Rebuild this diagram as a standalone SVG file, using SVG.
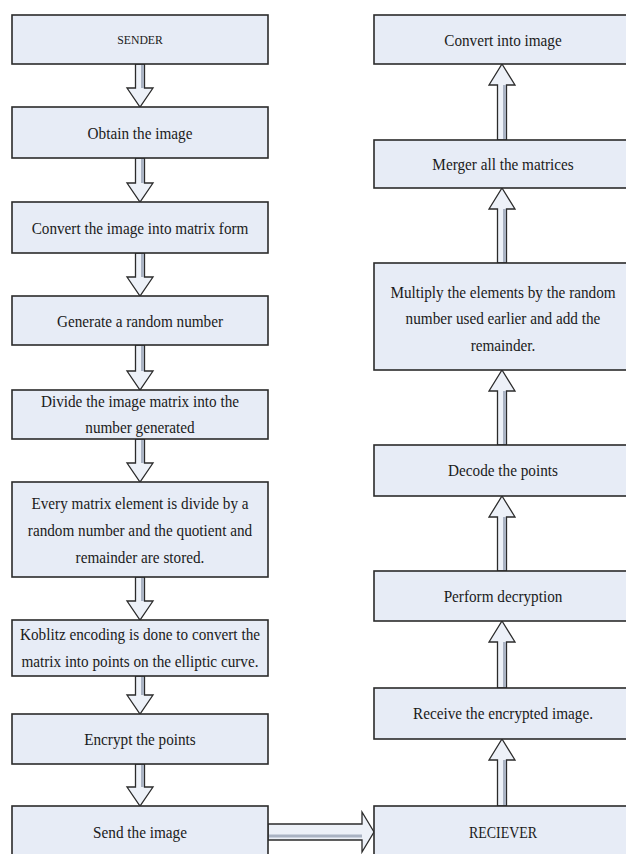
<svg xmlns="http://www.w3.org/2000/svg" width="626" height="854" viewBox="0 0 626 854">
<style>
.box{fill:#e7ecf6;stroke:#2b2b2b;stroke-width:1.6}
.arr{fill:#edf1f8;stroke:#2b2b2b;stroke-width:1.3;stroke-linejoin:miter}
.sh{stroke:#aab3c3;stroke-width:3;fill:none}
text{font-family:"Liberation Serif","Times New Roman",serif;font-size:17.5px;fill:#1a1a1a;text-anchor:middle;transform-box:fill-box;transform-origin:center;transform:scaleX(0.87)}
.sm{font-size:13.5px}
</style>
<rect width="626" height="854" fill="#fff"/>
<g id="connectors">
<polygon class="arr" points="135.5,64 144.5,64 144.5,88 153,88 140,107 127,88 135.5,88"/>
<line class="sh" x1="142.5" y1="65" x2="142.5" y2="88"/>
<polygon class="arr" points="135.5,158 144.5,158 144.5,183 153,183 140,202 127,183 135.5,183"/>
<line class="sh" x1="142.5" y1="159" x2="142.5" y2="183"/>
<polygon class="arr" points="135.5,253 144.5,253 144.5,277 153,277 140,296 127,277 135.5,277"/>
<line class="sh" x1="142.5" y1="254" x2="142.5" y2="277"/>
<polygon class="arr" points="135.5,345 144.5,345 144.5,371 153,371 140,390 127,371 135.5,371"/>
<line class="sh" x1="142.5" y1="346" x2="142.5" y2="371"/>
<polygon class="arr" points="135.5,439 144.5,439 144.5,463 153,463 140,482 127,463 135.5,463"/>
<line class="sh" x1="142.5" y1="440" x2="142.5" y2="463"/>
<polygon class="arr" points="135.5,577 144.5,577 144.5,601 153,601 140,620 127,601 135.5,601"/>
<line class="sh" x1="142.5" y1="578" x2="142.5" y2="601"/>
<polygon class="arr" points="135.5,676 144.5,676 144.5,695 153,695 140,714 127,695 135.5,695"/>
<line class="sh" x1="142.5" y1="677" x2="142.5" y2="695"/>
<polygon class="arr" points="135.5,764 144.5,764 144.5,787 153,787 140,806 127,787 135.5,787"/>
<line class="sh" x1="142.5" y1="765" x2="142.5" y2="787"/>

<polygon class="arr" points="502,64 515,85 506.5,85 506.5,140 497.5,140 497.5,85 489,85"/>
<line class="sh" x1="504.5" y1="85" x2="504.5" y2="139"/>
<polygon class="arr" points="502,188 515,209 506.5,209 506.5,263 497.5,263 497.5,209 489,209"/>
<line class="sh" x1="504.5" y1="209" x2="504.5" y2="262"/>
<polygon class="arr" points="502,370 515,391 506.5,391 506.5,445 497.5,445 497.5,391 489,391"/>
<line class="sh" x1="504.5" y1="391" x2="504.5" y2="444"/>
<polygon class="arr" points="502,496 515,517 506.5,517 506.5,571 497.5,571 497.5,517 489,517"/>
<line class="sh" x1="504.5" y1="517" x2="504.5" y2="570"/>
<polygon class="arr" points="502,621 515,642 506.5,642 506.5,688 497.5,688 497.5,642 489,642"/>
<line class="sh" x1="504.5" y1="642" x2="504.5" y2="687"/>
<polygon class="arr" points="502,739 515,760 506.5,760 506.5,806 497.5,806 497.5,760 489,760"/>
<line class="sh" x1="504.5" y1="760" x2="504.5" y2="805"/>

<polygon class="arr" points="268,824 362,824 362,812 374,832 362,852 362,840 268,840"/>
<line class="sh" x1="269" y1="836" x2="362" y2="836"/>
</g>

<g id="sender"><rect class="box" x="12" y="15" width="256" height="49"/><text class="sm" x="140" y="44">SENDER</text></g>
<g id="obtain"><rect class="box" x="12" y="107" width="256" height="51"/><text x="140" y="139">Obtain the image</text></g>
<g id="convert"><rect class="box" x="12" y="202" width="256" height="51"/><text x="140" y="234">Convert the image into matrix form</text></g>
<g id="generate"><rect class="box" x="12" y="296" width="256" height="49"/><text x="140" y="327">Generate a random number</text></g>
<g id="divide"><rect class="box" x="12" y="390" width="256" height="49"/><text x="140" y="407">Divide the image matrix into the</text><text x="140" y="433">number generated</text></g>
<g id="every"><rect class="box" x="12" y="482" width="256" height="95"/><text x="140" y="509">Every matrix element is divide by a</text><text x="140" y="536">random number and the quotient and</text><text x="140" y="563">remainder are stored.</text></g>
<g id="koblitz"><rect class="box" x="12" y="620" width="256" height="56"/><text x="140" y="640">Koblitz encoding is done to convert the</text><text x="140" y="667">matrix into points on the elliptic curve.</text></g>
<g id="encrypt"><rect class="box" x="12" y="714" width="256" height="50"/><text x="140" y="745">Encrypt the points</text></g>
<g id="send"><rect class="box" x="12" y="806" width="256" height="60"/><text x="140" y="838">Send the image</text></g>

<g id="convert-image"><rect class="box" x="374" y="15" width="256" height="49"/><text x="503" y="46">Convert into image</text></g>
<g id="merger"><rect class="box" x="374" y="140" width="256" height="48"/><text x="503" y="170">Merger all the matrices</text></g>
<g id="multiply"><rect class="box" x="374" y="263" width="256" height="107"/><text x="503" y="298">Multiply the elements by the random</text><text x="503" y="324">number used earlier and add the</text><text x="503" y="351">remainder.</text></g>
<g id="decode"><rect class="box" x="374" y="445" width="256" height="51"/><text x="503" y="476">Decode the points</text></g>
<g id="perform"><rect class="box" x="374" y="571" width="256" height="50"/><text x="503" y="602">Perform decryption</text></g>
<g id="receive"><rect class="box" x="374" y="688" width="256" height="51"/><text x="503" y="719">Receive the encrypted image.</text></g>
<g id="reciever"><rect class="box" x="374" y="806" width="256" height="60"/><text class="sm" x="503" y="838" style="font-size:16px">RECIEVER</text></g>
</svg>
